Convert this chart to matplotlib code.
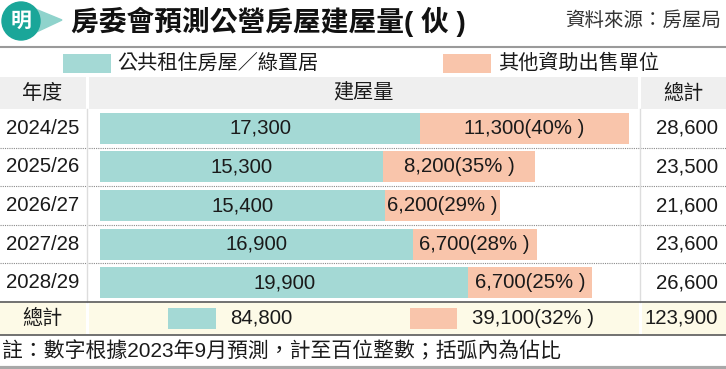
import matplotlib
matplotlib.use("Agg")
import matplotlib.pyplot as plt
from matplotlib.patches import Rectangle, Circle, Polygon

plt.rcParams['font.family'] = ['Liberation Sans', 'Noto Sans CJK TC']

# data
years = ['2024/25', '2025/26', '2026/27', '2027/28', '2028/29']
public = [17300, 15300, 15400, 16900, 19900]
other = [11300, 8200, 6200, 6700, 6700]
other_pct = [40, 35, 29, 28, 25]
totals = [28600, 23500, 21600, 23600, 26600]
sum_public = 84800
sum_other = 39100
sum_other_pct = 32
grand_total = 123900

title = '房委會預測公營房屋建屋量( 伙 )'
source = '資料來源：房屋局'
legend_labels = ['公共租住房屋／綠置居', '其他資助出售單位']
headers = ['年度', '建屋量', '總計']
total_label = '總計'
note = '註：數字根據2023年9月預測，計至百位整數；括弧內為佔比'

TEAL = '#a4d9d5'
ORANGE = '#f9c5ab'
HEAD = '#efefef'
TOTBG = '#fdfae7'
TXT = '#1a1a1a'
NUM = 14.7  # number font size


def pct_label(v, p):
    return f'{v:,}({p}% )'


W, H = 726, 369
fig = plt.figure(figsize=(W / 100, H / 100), dpi=100)
fig.patch.set_facecolor('white')

# background axes in pixel coordinates
bg = fig.add_axes([0, 0, 1, 1])
bg.set_xlim(0, W)
bg.set_ylim(H, 0)
bg.axis('off')

# logo
bg.add_patch(Polygon([[28, 6], [62, 20], [28, 36]], closed=True, color='#8fd3cc', zorder=1))
bg.add_patch(Circle((21, 21), 19, color='#1aa699', zorder=2))
bg.text(21, 21, '明', color='white', fontsize=15, fontweight='bold', style='italic',
        ha='center', va='center', zorder=3)

bg.text(71, 22, title, fontsize=20, fontweight=900, color='#111111', ha='left', va='center')
bg.text(721, 21, source, fontsize=14, color='#333333', ha='right', va='center')
bg.plot([0, W], [47, 47], color='#9a9a9a', lw=1.5)

# legend
bg.add_patch(Rectangle((63, 54), 48, 19, color=TEAL, lw=0))
bg.text(117, 63.5, legend_labels[0], fontsize=14.5, color=TXT, ha='left', va='center')
bg.add_patch(Rectangle((443, 54), 48, 19, color=ORANGE, lw=0))
bg.text(498, 63.5, legend_labels[1], fontsize=14.5, color=TXT, ha='left', va='center')

# header row
bg.add_patch(Rectangle((0, 77), 86, 32, color=HEAD, lw=0))
bg.add_patch(Rectangle((89, 77), 549, 32, color=HEAD, lw=0))
bg.add_patch(Rectangle((641, 77), 85, 32, color=HEAD, lw=0))
bg.text(42, 93, headers[0], fontsize=14.5, color=TXT, ha='center', va='center')
bg.text(363, 93, headers[1], fontsize=14.5, color=TXT, ha='center', va='center')
bg.text(683, 93, headers[2], fontsize=14.5, color=TXT, ha='center', va='center')

# body rows
top, row_h = 109, 38.6
for i in range(1, len(years)):
    y = top + row_h * i
    bg.plot([0, W], [y, y], color='#8a8a8a', lw=0.8, ls=(0, (1, 1)))
bg.plot([87, 87], [109, 302], color='#dddddd', lw=1)
bg.plot([640, 640], [109, 302], color='#dddddd', lw=1)
for i, yr in enumerate(years):
    yc = top + row_h * (i + 0.5)
    bg.text(43, yc, yr, fontsize=NUM, color=TXT, ha='center', va='center')
    bg.text(718, yc, f'{totals[i]:,}', fontsize=NUM, color=TXT, ha='right', va='center')

# total row
bg.add_patch(Rectangle((0, 302), 86, 33, color=TOTBG, lw=0))
bg.add_patch(Rectangle((89, 302), 550, 33, color=TOTBG, lw=0))
bg.add_patch(Rectangle((642, 302), 84, 33, color=TOTBG, lw=0))
bg.plot([0, W], [302, 302], color='#666666', lw=1.3)
bg.plot([0, W], [335, 335], color='#666666', lw=1.3)
bg.text(42, 318.5, total_label, fontsize=14.5, color=TXT, ha='center', va='center')
bg.add_patch(Rectangle((168, 308), 48, 21, color=TEAL, lw=0))
bg.text(230, 318.5, f'{sum_public:,}', fontsize=NUM, color=TXT, ha='left', va='center')
bg.add_patch(Rectangle((410, 308), 47, 21, color=ORANGE, lw=0))
bg.text(472, 318.5, pct_label(sum_other, sum_other_pct), fontsize=NUM, color=TXT,
        ha='left', va='center')
bg.text(718, 318.5, f'{grand_total:,}', fontsize=NUM, color=TXT, ha='right', va='center')

# footnote
bg.text(2, 351, note, fontsize=15, color=TXT, ha='left', va='center')
bg.plot([0, W], [367.5, 367.5], color='#a8a8a8', lw=3)

# bar axes: pixel x 100..640, y 109..302
scale = 0.0185  # px per unit
ax = fig.add_axes([100 / W, (H - 302) / H, 540 / W, 193 / H])
ax.patch.set_visible(False)
ax.set_xlim(0, 540 / scale)
ax.set_ylim(len(years) - 0.5, -0.5)
ax.axis('off')
pos = list(range(len(years)))
ax.barh(pos, public, height=0.8, color=TEAL, lw=0)
ax.barh(pos, other, left=public, height=0.8, color=ORANGE, lw=0)
for i in pos:
    ax.text(public[i] / 2, i, f'{public[i]:,}', fontsize=NUM, color=TXT,
            ha='center', va='center')
    ax.text(public[i] + other[i] / 2, i, pct_label(other[i], other_pct[i]), fontsize=NUM,
            color=TXT, ha='center', va='center')

fig.savefig('out.png', dpi=100)
